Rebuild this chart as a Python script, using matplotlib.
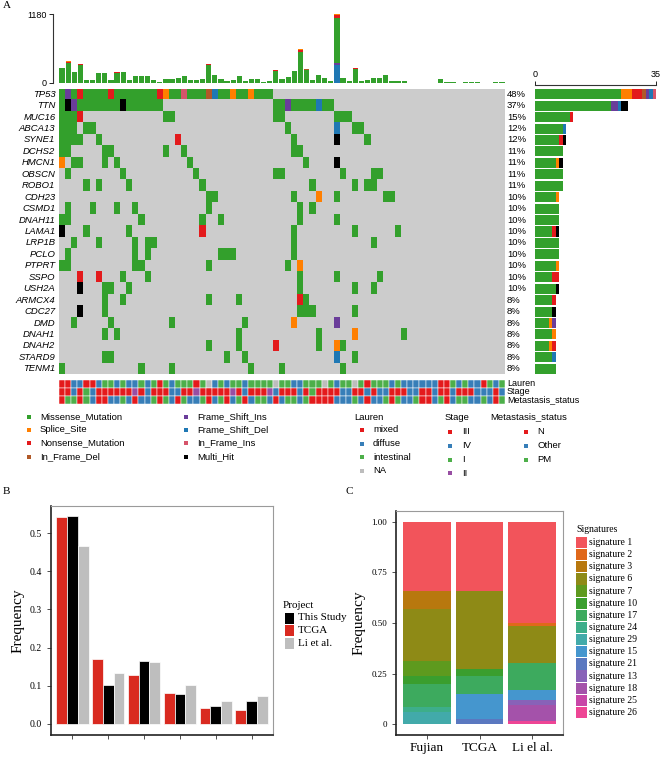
import numpy as np
import matplotlib
matplotlib.use('Agg')
import matplotlib.pyplot as plt
from matplotlib.colors import to_rgb

W, H = 660, 757

# ---------------- panel A data ----------------
genes = ['TP53', 'TTN', 'MUC16', 'ABCA13', 'SYNE1', 'DCHS2', 'HMCN1', 'OBSCN', 'ROBO1',
         'CDH23', 'CSMD1', 'DNAH11', 'LAMA1', 'LRP1B', 'PCLO', 'PTPRT', 'SSPO', 'USH2A',
         'ARMCX4', 'CDC27', 'DMD', 'DNAH1', 'DNAH2', 'STARD9', 'TENM1']
n_samples = 73

# code + sample column (or range): G missense, S splice, N nonsense, D in-frame del,
# I frame-shift ins, F frame-shift del, R in-frame ins, H multi hit
mut_cells = {
    'TP53': 'G0 I1 G2 N3 G4-7 N8 G9-15 N16 S17 G18-19 R20 G21-23 D24 F25 G26-27 S28 G29-30 S31 G32-34',
    'TTN': 'G0 H1 I2 G3-9 H10 G11-16 G35-36 I37 G38-41 F42 G43-44',
    'MUC16': 'G0-2 N3 G17-18 G35-36 G45-47',
    'ABCA13': 'G0-2 G4-5 G37 F45 G48-49',
    'SYNE1': 'G0-3 G6 N19 G38 H45 G50',
    'DCHS2': 'G0-1 G7-8 G17 G20 G38-39',
    'HMCN1': 'S0 G2-3 G7 G9 G21 G40 H45',
    'OBSCN': 'G1 G10 G22 G35-36 G46 G51-52',
    'ROBO1': 'G4 G6 G11 G23 G41 G48 G50-51',
    'CDH23': 'G24-25 G38 S42 G45 G53-54',
    'CSMD1': 'G1 G5 G9 G12 G24 G39 G41',
    'DNAH11': 'G0-1 G13 G23 G26 G39 G45',
    'LAMA1': 'H0 G4 G11 N23 G38 G48 G55',
    'LRP1B': 'G2 G6 G12 G14-15 G38 G51',
    'PCLO': 'G1 G12 G14 G26-28 G38',
    'PTPRT': 'G0-1 G12-13 G24 G37 S39',
    'SSPO': 'N3 N6 G10 G14 G39 G45 G52',
    'USH2A': 'H3 G7-8 G11 G39 G48 G51',
    'ARMCX4': 'G7 G10 G24 G29 N39 G40',
    'CDC27': 'H3 G7 G39-41 G48',
    'DMD': 'G2 G8 G18 G30 S38 I45',
    'DNAH1': 'G7 G9 G29 G42 S48 G56',
    'DNAH2': 'G24 G29 N35 G42 S45 G46',
    'STARD9': 'G7 G8 G27 G30 F45 G48',
    'TENM1': 'G0 G13 G18 G31 G36 G46',
}

vc_names = ['Missense_Mutation', 'Splice_Site', 'Nonsense_Mutation', 'In_Frame_Del',
            'Frame_Shift_Ins', 'Frame_Shift_Del', 'In_Frame_Ins', 'Multi_Hit']
vc_codes = ['G', 'S', 'N', 'D', 'I', 'F', 'R', 'H']
vc_colors = ['#33A02C', '#FF7F00', '#E31A1C', '#B15928', '#6A3D9A', '#1F78B4', '#D6546A', '#000000']

# mutation burden per sample (top bars)
tmb_missense = [248, 337, 182, 300, 57, 51, 165, 165, 57, 178, 189, 57, 114, 114, 119, 57, 23, 68,
                68, 91, 114, 57, 51, 74, 305, 142, 68, 40, 57, 125, 40, 63, 63, 23, 40, 202, 74,
                97, 200, 536, 225, 46, 142, 86, 28, 760, 80, 28, 241, 40, 46, 91, 91, 142, 40, 40,
                40, 6, 6, 6, 6, 6, 68, 17, 17, 6, 11, 17, 17, 6, 6, 23, 11]
tmb_nonsense = {1: 25, 3: 30, 9: 10, 14: 6, 20: 6, 24: 25, 35: 15, 39: 30, 45: 45, 46: 6, 48: 15}
tmb_splice = {0: 8, 1: 8, 10: 5, 39: 15, 45: 25}
tmb_inframe_del = {40: 15}
tmb_fs_del = {45: 310}
tmb_fs_ins = {45: 40}

# clinical annotation (M mixed, D diffuse, I intestinal, N NA / stage 1-4 / N, O other, P PM)
lauren = "MMDDMMDIID" "IDDIDIMIDI" "IIMINDIDII" "DIIIINIIDD" "IIINIDIINI" "MIIIDIDDDD" "DDMMIDIDDM" "IDI"
stage = "3343143333" "3323433344" "3323333323" "4333243334" "3133334433" "4344333443" "3433433344" "434"
metastasis = "NPPNPONNOO" "PONOOPNPON" "POOPNOPNOP" "NOPPONOPPO" "PNNNNOOOPO" "NOOPNPOOPN" "NOPNOPPOOP" "ONP"

lauren_levels = [('M', 'mixed', '#E41A1C'), ('D', 'diffuse', '#377EB8'),
                 ('I', 'intestinal', '#4DAF4A'), ('N', 'NA', '#BDBDBD')]
stage_levels = [('3', 'III', '#E41A1C'), ('4', 'IV', '#377EB8'),
                ('1', 'I', '#4DAF4A'), ('2', 'II', '#984EA3')]
meta_levels = [('N', 'N', '#E41A1C'), ('O', 'Other', '#377EB8'), ('P', 'PM', '#4DAF4A')]

# ---------------- panel B data ----------------
b_groups = [1, 2, 3, 4, 5, 6]
b_tcga = [0.541, 0.170, 0.128, 0.080, 0.042, 0.037]
b_this = [0.545, 0.102, 0.165, 0.079, 0.046, 0.059]
b_li = [0.465, 0.133, 0.161, 0.102, 0.060, 0.074]

# ---------------- panel C data ----------------
c_projects = ['Fujian', 'TCGA', 'Li el al.']
sig_names = ['signature 1', 'signature 2', 'signature 3', 'signature 6', 'signature 7',
             'signature 10', 'signature 17', 'signature 24', 'signature 29', 'signature 15',
             'signature 21', 'signature 13', 'signature 18', 'signature 25', 'signature 26']
sig_colors = ['#F2545B', '#E0681A', '#B8780E', '#8E8A16', '#5E9A1E', '#3A9E2E', '#3DAA5E',
              '#3DAE8A', '#42AAAA', '#4596CE', '#5A78C0', '#8862B8', '#A452AA', '#C846A8', '#EE4595']
sig_fujian = [0.344, 0.0, 0.087, 0.258, 0.075, 0.039, 0.112, 0.024, 0.061, 0, 0, 0, 0, 0, 0]
sig_tcga = [0.344, 0.0, 0.0, 0.382, 0.0, 0.038, 0.088, 0.0, 0.0, 0.123, 0.025, 0, 0, 0, 0]
sig_li = [0.500, 0.013, 0.0, 0.185, 0.0, 0.0, 0.135, 0.0, 0.0, 0.046, 0.0, 0.028, 0.078, 0.0, 0.015]


def parse_cells(s):
    out = {}
    for tok in s.split():
        code, rng = tok[0], tok[1:]
        if '-' in rng:
            a, b = map(int, rng.split('-'))
            cols = range(a, b + 1)
        else:
            cols = [int(rng)]
        for c in cols:
            out[c] = code
    return out


def px_axes(fig, x0, y0, x1, y1, **kw):
    return fig.add_axes([x0 / W, 1 - y1 / H, (x1 - x0) / W, (y1 - y0) / H], **kw)


sans = ['Liberation Sans', 'DejaVu Sans']
serif = ['Liberation Serif', 'DejaVu Serif']
plt.rcParams['font.family'] = sans

fig = plt.figure(figsize=(W / 100, H / 100), dpi=100)

cells = {g: parse_cells(mut_cells[g]) for g in genes}
code_col = dict(zip(vc_codes, vc_colors))

# ---- top bar (mutation burden) ----
axT = px_axes(fig, 59, 14, 505, 83)
xs = np.arange(n_samples) + 0.5
bottom = np.zeros(n_samples)
stack = [(tmb_fs_del, '#1F78B4'), (tmb_fs_ins, '#6A3D9A'),
         ({i: v for i, v in enumerate(tmb_missense)}, '#33A02C'),
         (tmb_nonsense, '#E31A1C'), (tmb_splice, '#FF7F00'), (tmb_inframe_del, '#B15928')]
for d, col in stack:
    vals = np.array([d.get(i, 0) for i in range(n_samples)], dtype=float)
    axT.bar(xs, vals, bottom=bottom, width=0.85, color=col, linewidth=0)
    bottom += vals
axT.set_xlim(0, n_samples)
axT.set_ylim(0, 1180)
for s in ['top', 'right', 'bottom']:
    axT.spines[s].set_visible(False)
axT.spines['left'].set_position(('outward', 4))
axT.spines['left'].set_color('#333333')
axT.set_xticks([])
axT.set_yticks([0, 1180])
axT.tick_params(axis='y', labelsize=6.5, length=3, width=0.6, pad=2)

# ---- oncoplot matrix ----
axM = px_axes(fig, 59, 88.5, 505, 374.5)
img = np.ones((len(genes), n_samples, 3)) * np.array(to_rgb('#CCCCCC'))
for r, g in enumerate(genes):
    for c, code in cells[g].items():
        img[r, c] = to_rgb(code_col[code])
axM.imshow(img, extent=(0, n_samples, len(genes), 0), aspect='auto', interpolation='nearest')
axM.set_xlim(0, n_samples)
axM.set_ylim(len(genes), 0)
axM.axis('off')
for r, g in enumerate(genes):
    axM.text(-0.6, r + 0.5, g, ha='right', va='center', fontsize=6.8, style='italic')
    pct = round(100 * len(cells[g]) / n_samples)
    axM.text(n_samples + 0.3, r + 0.5, '%d%%' % pct, ha='left', va='center', fontsize=6.8)

# ---- side bar (counts per gene) ----
axS = px_axes(fig, 535, 88.5, 656, 374.5)
for r, g in enumerate(genes):
    left = 0
    vals = list(cells[g].values())
    for code, col in zip(vc_codes, vc_colors):
        n = vals.count(code)
        if n:
            axS.barh(r + 0.5, n, left=left, height=0.88, color=col, linewidth=0)
            left += n
axS.set_xlim(0, 35)
axS.set_ylim(len(genes), 0)
for s in ['bottom', 'right', 'left']:
    axS.spines[s].set_visible(False)
axS.spines['top'].set_position(('outward', 2.5))
axS.spines['top'].set_color('#333333')
axS.xaxis.tick_top()
axS.set_xticks([0, 35])
axS.set_yticks([])
axS.tick_params(axis='x', labelsize=6.5, length=3, width=0.6, pad=1.5)

# ---- clinical tracks ----
axA = px_axes(fig, 59, 380, 505, 404)
tracks = [(lauren, lauren_levels), (stage, stage_levels), (metastasis, meta_levels)]
for r, (vals, levels) in enumerate(tracks):
    cmap = {k: c for k, _, c in levels}
    axA.bar(xs, 1, bottom=r, width=1, color=[cmap[v] for v in vals],
            edgecolor='white', linewidth=0.35)
axA.set_xlim(0, n_samples)
axA.set_ylim(3, 0)
axA.axis('off')
for r, name in enumerate(['Lauren', 'Stage', 'Metastasis_status']):
    axA.text(n_samples + 0.3, r + 0.5, name, ha='left', va='center', fontsize=6.5)

# ---- panel B ----
axB = px_axes(fig, 51, 506, 273, 735)
gx = np.array(b_groups, dtype=float)
axB.bar(gx - 0.3, b_tcga, width=0.3, color='#D92A20', edgecolor='white', linewidth=0.5)
axB.bar(gx, b_this, width=0.3, color='#000000', edgecolor='white', linewidth=0.5)
axB.bar(gx + 0.3, b_li, width=0.3, color='#BEBEBE', edgecolor='white', linewidth=0.5)
axB.set_xlim(0.4, 6.6)
axB.set_ylim(-0.0288, 0.5707)
axB.set_yticks([0, 0.1, 0.2, 0.3, 0.4, 0.5])
axB.set_yticklabels(['0.0', '0.1', '0.2', '0.3', '0.4', '0.5'], fontfamily=serif)
axB.set_xticks(b_groups)
axB.set_xticklabels([''] * 6)
axB.tick_params(labelsize=7, length=3, width=0.6, color='#333333')
axB.set_ylabel('Frequency', fontsize=11, fontfamily=serif, labelpad=4)

# ---- panel C ----
axC = px_axes(fig, 396, 511, 563, 735)
tabs = [sig_fujian, sig_tcga, sig_li]
for j, vals in enumerate(tabs):
    b = 0.0
    for k in range(len(sig_names) - 1, -1, -1):
        if vals[k] > 0:
            axC.bar(j + 1, vals[k], bottom=b, width=0.9, color=sig_colors[k], linewidth=0)
            b += vals[k]
axC.set_xlim(0.41, 3.59)
axC.set_ylim(-0.054, 1.054)
axC.set_yticks([0, 0.25, 0.5, 0.75, 1.0])
axC.set_yticklabels(['0', '0.25', '0.50', '0.75', '1.00'], fontfamily=serif)
axC.set_xticks([1, 2, 3])
axC.set_xticklabels(c_projects, fontfamily=serif, fontsize=9.5)
axC.tick_params(axis='y', labelsize=6.5, length=3, width=0.6, color='#333333')
axC.tick_params(axis='x', length=3, width=0.6, color='#333333', pad=2)
axC.set_ylabel('Frequency', fontsize=11, fontfamily=serif, labelpad=4)

for ax in (axB, axC):
    for s in ['top', 'right']:
        ax.spines[s].set_color('#9A9A9A')
        ax.spines[s].set_linewidth(0.8)
    for s in ['left', 'bottom']:
        ax.spines[s].set_color('#222222')
        ax.spines[s].set_linewidth(1.2)

# ---- overlay for legends / panel letters ----
ov = fig.add_axes([0, 0, 1, 1])
ov.set_xlim(0, W)
ov.set_ylim(H, 0)
ov.axis('off')

ov.text(3, 6, 'A', fontsize=8, fontfamily=serif, va='center')
ov.text(3, 492, 'B', fontsize=8, fontfamily=serif, va='center')
ov.text(345, 492, 'C', fontsize=8, fontfamily=serif, va='center')

leg_rows = [417, 430, 443, 457]
for i, (name, col) in enumerate(zip(vc_names, vc_colors)):
    x0 = 29 if i < 4 else 186
    y0 = leg_rows[i % 4]
    ov.scatter([x0], [y0], marker='s', s=7, color=col, linewidths=0)
    ov.text(x0 + 11, y0, name, fontsize=6.8, va='center')

ov.text(354, 417, 'Lauren', fontsize=6.8, va='center')
for i, (_, lab, col) in enumerate(lauren_levels):
    y0 = 430 + 13.6 * i
    ov.scatter([362], [y0], marker='s', s=7, color=col, linewidths=0)
    ov.text(373, y0, lab, fontsize=6.8, va='center')
ov.text(445, 418, 'Stage', fontsize=6.8, va='center')
for i, (_, lab, col) in enumerate(stage_levels):
    y0 = 432 + 13.8 * i
    ov.scatter([450], [y0], marker='s', s=7, color=col, linewidths=0)
    ov.text(462, y0, lab, fontsize=6.8, va='center')
ov.text(490, 417, 'Metastasis_status', fontsize=6.8, va='center')
for i, (_, lab, col) in enumerate(meta_levels):
    y0 = 432 + 13.8 * i
    ov.scatter([526], [y0], marker='s', s=7, color=col, linewidths=0)
    ov.text(537, y0, lab, fontsize=6.8, va='center')

# panel B legend
ov.text(283, 606, 'Project', fontsize=8, fontfamily=serif, va='center')
for i, (lab, col) in enumerate(zip(['This Study', 'TCGA', 'Li et al.'],
                                   ['#000000', '#D92A20', '#BEBEBE'])):
    yc = 618 + 12.5 * i
    ov.add_patch(plt.Rectangle((284.5, yc - 5.5), 9, 11, color=col, linewidth=0))
    ov.text(298, yc, lab, fontsize=8, fontfamily=serif, va='center')

# panel C legend
ov.text(576, 530, 'Signatures', fontsize=7, fontfamily=serif, va='center')
for i, (lab, col) in enumerate(zip(sig_names, sig_colors)):
    yc = 542.5 + 12.14 * i
    ov.add_patch(plt.Rectangle((576, yc - 5.6), 11, 11.2, color=col, linewidth=0))
    ov.text(589, yc, lab, fontsize=7, fontfamily=serif, va='center')

fig.savefig('out.png', dpi=100)
